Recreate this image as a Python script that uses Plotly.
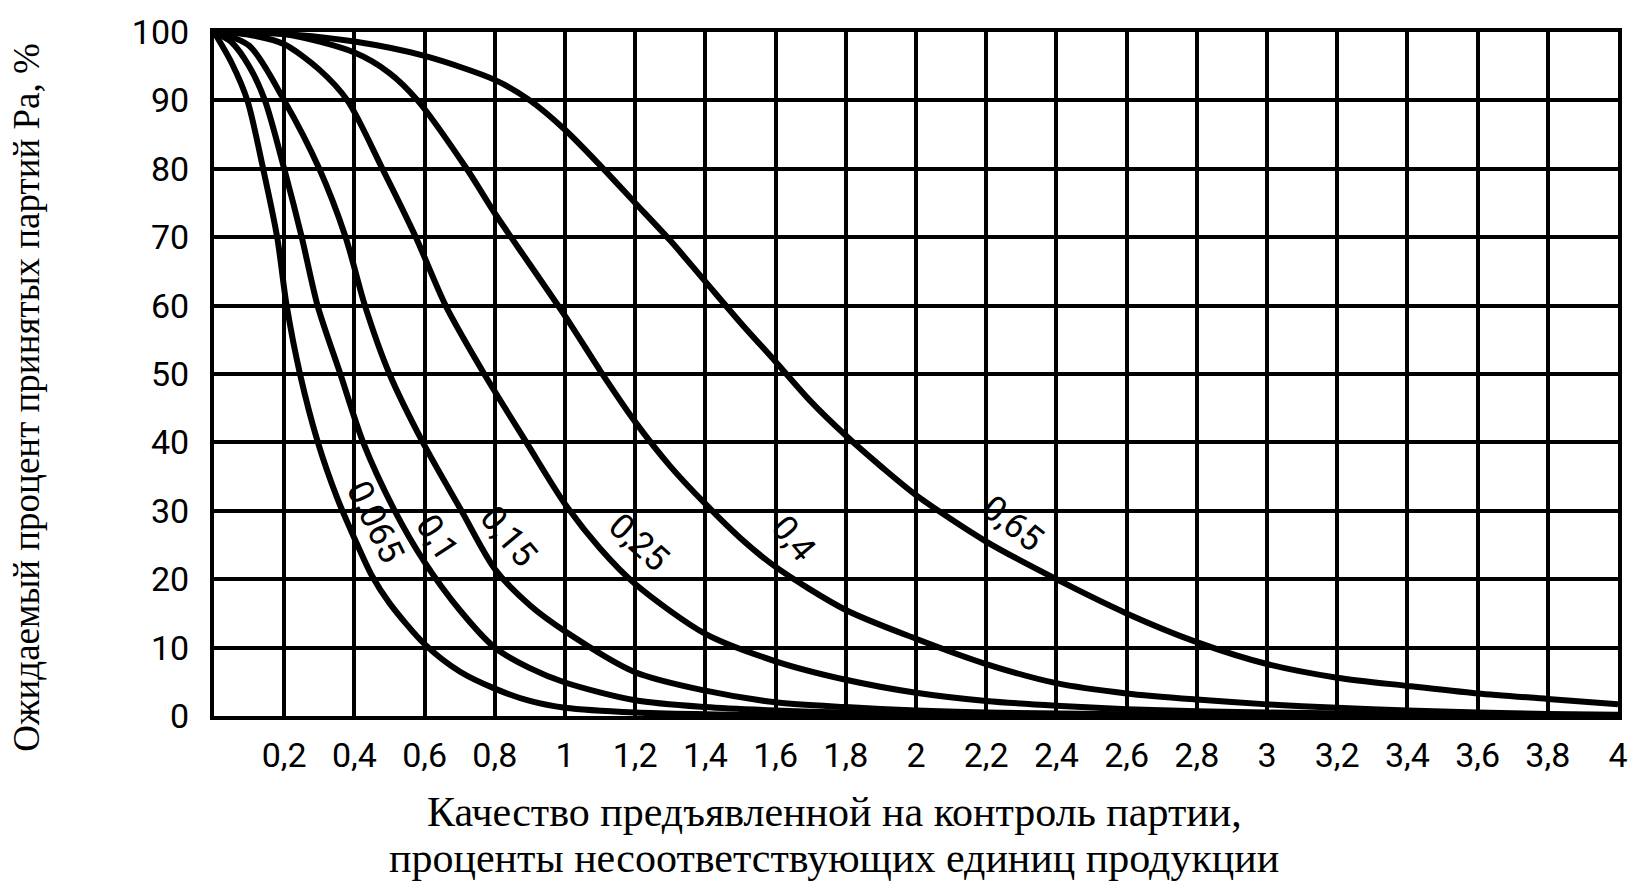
import plotly.graph_objects as go

# ---- data (x in %, y in %) ----
x_ticks = [0.2, 0.4, 0.6, 0.8, 1.0, 1.2, 1.4, 1.6, 1.8, 2.0, 2.2, 2.4, 2.6, 2.8, 3.0,
           3.2, 3.4, 3.6, 3.8, 4.0]
x_tick_labels = ["0,2", "0,4", "0,6", "0,8", "1", "1,2", "1,4", "1,6", "1,8", "2", "2,2",
                 "2,4", "2,6", "2,8", "3", "3,2", "3,4", "3,6", "3,8", "4"]
y_ticks = [0, 10, 20, 30, 40, 50, 60, 70, 80, 90, 100]
y_tick_labels = ["0", "10", "20", "30", "40", "50", "60", "70", "80", "90", "100"]

aql_labels = ["0,065", "0,1", "0,15", "0,25", "0,4", "0,65"]

x_0065 = [0, 0.05, 0.095, 0.14, 0.18, 0.207, 0.245, 0.296, 0.35, 0.4, 0.45, 0.5, 0.6, 0.7,
          0.8, 0.9, 1.0, 1.2, 1.4, 1.6, 2.0, 2.5, 3.0, 4.0]
y_0065 = [100, 95.5, 90, 80, 70, 60, 50, 40, 32, 26, 20.5, 16.5, 10.5, 6.5,
          4, 2.2, 1.2, 0.5, 0.25, 0.12, 0.05, 0.02, 0, 0]

x_01 = [0, 0.05, 0.1, 0.145, 0.2, 0.25, 0.295, 0.36, 0.425, 0.515, 0.6, 0.7, 0.8, 0.9,
        1.0, 1.2, 1.4, 1.6, 1.8, 2.0, 2.4, 3.0, 4.0]
y_01 = [100, 98.5, 95, 90, 80, 70, 60, 50, 40, 30, 22.5, 15.5, 10, 7,
        4.9, 2.3, 1.3, 0.8, 0.5, 0.3, 0.15, 0.05, 0]

x_015 = [0, 0.1, 0.2, 0.3, 0.375, 0.43, 0.5, 0.595, 0.705, 0.8, 0.9, 1.0, 1.2, 1.4,
         1.6, 1.8, 2.0, 2.2, 2.6, 3.0, 4.0]
y_015 = [100, 98, 90, 80, 70, 60, 50, 40, 30, 21.5, 16.2, 12.4, 6.4, 3.7,
         2.0, 1.3, 0.8, 0.5, 0.25, 0.1, 0]

x_025 = [0, 0.1, 0.2, 0.3, 0.38, 0.48, 0.575, 0.66, 0.77, 0.89, 1.0, 1.1, 1.2, 1.4,
         1.6, 1.8, 2.0, 2.2, 2.4, 2.6, 2.8, 3.0, 3.4, 4.0]
y_025 = [100, 99.6, 98.2, 94.5, 90, 80, 70, 60, 50, 40, 31, 24.5, 19.3, 12,
         8, 5.3, 3.4, 2.2, 1.5, 1.0, 0.7, 0.5, 0.3, 0.1]

x_04 = [0, 0.2, 0.4, 0.5, 0.58, 0.72, 0.8, 0.9, 1.0, 1.1, 1.2, 1.3, 1.4, 1.5, 1.6,
        1.8, 2.0, 2.2, 2.4, 2.6, 2.8, 3.0, 3.2, 3.4, 3.6, 3.8, 4.0]
y_04 = [100, 99.7, 97, 94, 90, 80, 73.5, 66, 58.5, 50.5, 43, 36.5, 31, 26, 21.8,
        15.5, 11.3, 7.6, 4.8, 3.3, 2.4, 1.7, 1.2, 0.8, 0.5, 0.3, 0.2]

x_065 = [0, 0.2, 0.4, 0.6, 0.8, 0.9, 1.0, 1.1, 1.2, 1.3, 1.4, 1.5, 1.6, 1.7, 1.8, 1.9,
         2.0, 2.2, 2.4, 2.6, 2.8, 3.0, 3.2, 3.4, 3.6, 3.8, 4.0]
y_065 = [100, 99.7, 98.6, 96.5, 93, 90, 85.7, 80.5, 75, 69.5, 63.5, 57.5, 51.8, 46, 41,
         36.5, 32.3, 25.5, 20, 15, 10.8, 7.6, 5.6, 4.4, 3.3, 2.5, 1.7]

# curve label anchor points (data coords) and angles
label_x = [0.46, 0.635, 0.84, 1.21, 1.65, 2.275]
label_y = [28.3, 26.1, 26.3, 25.4, 25.9, 28.2]
label_angle = [64, 57, 50, 42, 50, 38]

curves = [(x_0065, y_0065), (x_01, y_01), (x_015, y_015),
          (x_025, y_025), (x_04, y_04), (x_065, y_065)]

tick_family = "Roboto, DejaVu Sans, sans-serif"
tick_font = dict(family=tick_family, size=34, color="black")
serif = "Liberation Serif, Times New Roman, serif"

W, H = 1640, 889
ML, MR, MT, MB = 214, 18, 23, 173
PH = H - MT - MB  # plot height in px


def py(page_y):
    # page pixel row -> paper coordinate
    return (H - MB - page_y) / PH


fig = go.Figure()
for (xs, ys), name in zip(curves, aql_labels):
    fig.add_trace(go.Scatter(x=xs, y=ys, mode="lines", name=name,
                             line=dict(color="black", width=6, shape="spline", smoothing=0.8),
                             hoverinfo="skip", showlegend=False))

for lx, ly, la, txt in zip(label_x, label_y, label_angle, aql_labels):
    fig.add_annotation(x=lx, y=ly, xref="x", yref="y", text=txt, showarrow=False,
                       textangle=la,
                       font=dict(family=tick_family, size=35, color="black"))

fig.add_annotation(x=-0.1335, y=py(393), xref="paper", yref="paper",
                   xanchor="center", yanchor="middle",
                   text="Ожидаемый процент принятых партий Pa, %", textangle=-90,
                   showarrow=False, font=dict(family=serif, size=37, color="black"))
fig.add_annotation(x=0.4418, y=py(813), xref="paper", yref="paper",
                   xanchor="center", yanchor="middle",
                   text="Качество предъявленной на контроль партии,",
                   showarrow=False, font=dict(family=serif, size=42, color="black"))
fig.add_annotation(x=0.4418, y=py(860), xref="paper", yref="paper",
                   xanchor="center", yanchor="middle",
                   text="проценты несоответствующих единиц продукции",
                   showarrow=False, font=dict(family=serif, size=42, color="black"))

axis_common = dict(showgrid=True, gridcolor="black", gridwidth=4, zeroline=False,
                   showline=True, linecolor="black", linewidth=4, mirror=True,
                   ticks="", tickfont=tick_font, ticklabeloverflow="allow")
fig.update_xaxes(range=[0, 4], tickvals=x_ticks, ticktext=x_tick_labels,
                 ticklabelstandoff=6, **axis_common)
fig.update_yaxes(range=[0, 100], tickvals=y_ticks, ticktext=y_tick_labels,
                 ticklabelstandoff=14, **axis_common)

fig.update_layout(width=W, height=H, autosize=False,
                  margin=dict(l=ML, r=MR, t=MT, b=MB),
                  plot_bgcolor="white", paper_bgcolor="white")

fig.write_html("out.html", config={"displayModeBar": False},
               post_script="document.body.style.margin='0';document.body.style.overflow='hidden';")
